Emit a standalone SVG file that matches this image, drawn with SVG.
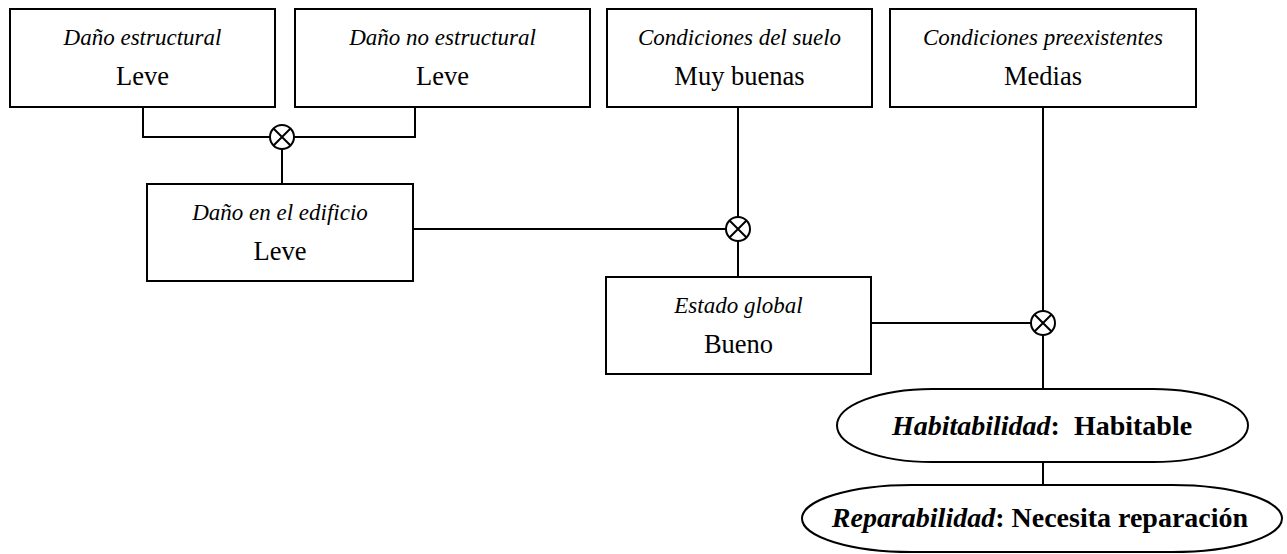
<svg xmlns="http://www.w3.org/2000/svg" width="1287" height="554" viewBox="0 0 1287 554" font-family="'Liberation Serif', 'Times New Roman', 'DejaVu Serif', serif">
<style>
.box{fill:#fff;stroke:#000;stroke-width:2}
.ln{fill:none;stroke:#000;stroke-width:2}
text{font-family:'Liberation Serif','Times New Roman','DejaVu Serif',serif;fill:#000;text-anchor:middle}
.it{font-style:italic;font-size:23px}
.rg{font-size:26.5px}
.b{font-weight:bold;font-size:28px}
</style>
<defs>
<g id="otimes"><circle cx="0" cy="0" r="12" fill="#fff" stroke="#000" stroke-width="2"/><path d="M-8.5,-8.5L8.5,8.5M8.5,-8.5L-8.5,8.5" stroke="#000" stroke-width="2"/></g>
</defs>
<g id="connectors">
<path class="ln" d="M143,107V137H270M415,107V137H294M282,149V184"/>
<path class="ln" d="M413,229H726M738,107V217M738,241V277"/>
<path class="ln" d="M871,323H1031M1043,107V311M1043,335V389M1043,462V485"/>
<use href="#otimes" x="282" y="137"/>
<use href="#otimes" x="738" y="229"/>
<use href="#otimes" x="1043" y="323"/>
</g>
<g id="n-dano-estructural">
<rect class="box" x="10" y="9" width="265" height="98"/>
<text class="it" x="142.5" y="45">Daño estructural</text>
<text class="rg" x="142.5" y="85">Leve</text>
</g>
<g id="n-dano-no-estructural">
<rect class="box" x="295" y="9" width="295" height="98"/>
<text class="it" x="442.5" y="45">Daño no estructural</text>
<text class="rg" x="442.5" y="85">Leve</text>
</g>
<g id="n-condiciones-suelo">
<rect class="box" x="607" y="9" width="265" height="98"/>
<text class="it" x="739.5" y="45">Condiciones del suelo</text>
<text class="rg" x="739.5" y="85">Muy buenas</text>
</g>
<g id="n-condiciones-preexistentes">
<rect class="box" x="890" y="9" width="306" height="98"/>
<text class="it" x="1043" y="45">Condiciones preexistentes</text>
<text class="rg" x="1043" y="85">Medias</text>
</g>
<g id="n-dano-edificio">
<rect class="box" x="147" y="184" width="266" height="97"/>
<text class="it" x="280" y="220">Daño en el edificio</text>
<text class="rg" x="280" y="260">Leve</text>
</g>
<g id="n-estado-global">
<rect class="box" x="606" y="277" width="265" height="97"/>
<text class="it" x="738.5" y="313">Estado global</text>
<text class="rg" x="738.5" y="353">Bueno</text>
</g>
<g id="n-habitabilidad">
<rect class="box" x="837" y="389" width="411" height="73" rx="95" ry="36.5"/>
<text class="b" x="1042" y="435"><tspan font-style="italic">Habitabilidad</tspan>:<tspan dx="14">Habitable</tspan></text>
</g>
<g id="n-reparabilidad">
<rect class="box" x="802" y="485" width="480" height="67" rx="110" ry="33.5"/>
<text class="b" x="1040" y="527"><tspan font-style="italic">Reparabilidad</tspan>:<tspan dx="7">Necesita reparación</tspan></text>
</g>
</svg>
